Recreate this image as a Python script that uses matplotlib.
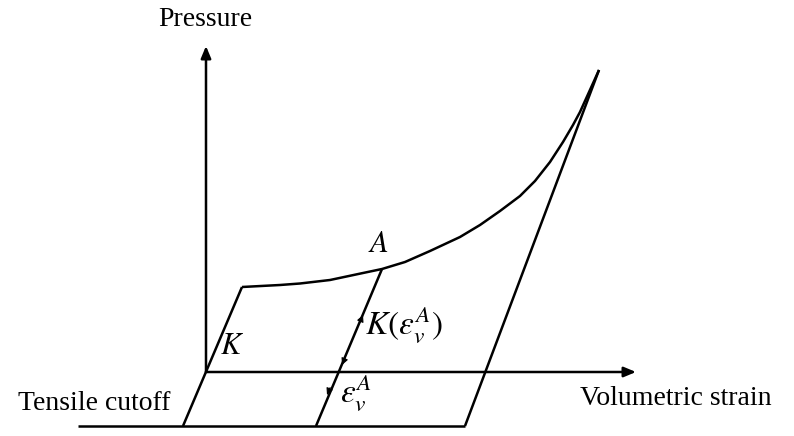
import numpy as np
import matplotlib
matplotlib.use("Agg")
import matplotlib.pyplot as plt

plt.rcParams['font.family'] = ['Liberation Serif', 'DejaVu Serif']
plt.rcParams['mathtext.fontset'] = 'stix'

# Schematic coordinates (volumetric strain, pressure), origin at the axes crossing
# compaction envelope from end of elastic loading up to the top
envelope_x = [36, 74, 94, 124, 157, 176, 199, 224, 254, 274, 294, 314, 329, 344, 357, 367, 374, 393]
envelope_y = [85, 87, 88.5, 92, 99, 103, 110, 121, 135, 147, 161, 176, 191, 210, 230, 247, 260, 302]

# initial elastic line (slope K) from tensile cutoff up to the envelope
loading_x = [-23, 36]
loading_y = [-54, 85]

# unloading / reloading line through point A, slope K(eps_v^A)
unload_x = [176, 110]
unload_y = [103, -54]

# steepest unloading line from the top of the envelope
right_x = [393, 259]
right_y = [302, -54]

# tensile cutoff line
cutoff_x = [-128, 259]
cutoff_y = [-54, -54]

# axes arrows
p_axis_top = 326
v_axis_end = 430

# arrowheads along the unloading line (tip positions, direction sign)
arrow_tips = [(157, 57, 1), (136, 7, -1), (121, -23, -1)]

fig = plt.figure(figsize=(7.94, 4.36), dpi=100)
ax = fig.add_axes([0, 0, 1, 1])
ax.set_xlim(-206, 588)
ax.set_ylim(-64, 372)
ax.axis('off')

lw = 1.8
kw = dict(color='black', lw=lw, solid_capstyle='butt', solid_joinstyle='round')

ax.plot(envelope_x, envelope_y, **kw)
ax.plot(loading_x, loading_y, **kw)
ax.plot(unload_x, unload_y, **kw)
ax.plot(right_x, right_y, **kw)
ax.plot(cutoff_x, cutoff_y, **kw)

# coordinate axes with arrow heads
head = '-|>,head_length=0.6,head_width=0.25'
ax.annotate('', xy=(0, p_axis_top), xytext=(0, 0),
            arrowprops=dict(arrowstyle=head, color='black', lw=lw,
                            mutation_scale=12, shrinkA=0, shrinkB=0))
ax.annotate('', xy=(v_axis_end, 0), xytext=(0, 0),
            arrowprops=dict(arrowstyle=head, color='black', lw=lw,
                            mutation_scale=12, shrinkA=0, shrinkB=0))

# small arrow heads on the unloading line
d = np.array([unload_x[0] - unload_x[1], unload_y[0] - unload_y[1]], dtype=float)
d /= np.hypot(*d)
for tx, ty, sgn in arrow_tips:
    tip = np.array([tx, ty], dtype=float)
    tail = tip - sgn * 8 * d
    ax.annotate('', xy=tip, xytext=tail,
                arrowprops=dict(arrowstyle='-|>', color='black', lw=0.8,
                                mutation_scale=10, shrinkA=0, shrinkB=0))

# labels
ax.text(-1, 352, 'Pressure', fontsize=20, ha='center', va='center')
ax.text(374, -26, 'Volumetric strain', fontsize=20, ha='left', va='center')
ax.text(-188, -31, 'Tensile cutoff', fontsize=20, ha='left', va='center')
ax.text(172, 127, r'$A$', fontsize=22, ha='center', va='center')
ax.text(26, 25, r'$K$', fontsize=22, ha='center', va='center')
ax.text(159, 47, r'$K(\varepsilon_v^A)$', fontsize=24, ha='left', va='center')
ax.text(134, -21, r'$\varepsilon_v^A$', fontsize=24, ha='left', va='center')

fig.savefig('out.png', dpi=100)
